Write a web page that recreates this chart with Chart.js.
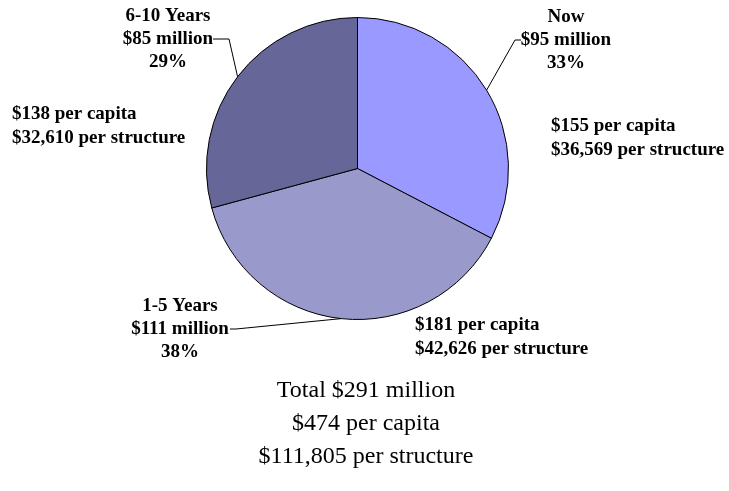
<!DOCTYPE html>
<html>
<head>
<meta charset="utf-8">
<script src="https://cdn.jsdelivr.net/npm/chart.js@4/dist/chart.umd.min.js"></script>
<style>
  html, body { margin: 0; padding: 0; background: #fff; }
  #wrap { width: 729px; height: 491px; }
</style>
</head>
<body>
<div id="wrap"><canvas id="cost-chart" width="729" height="491"></canvas></div>
<script>
const periods = ['Now', '1-5 Years', '6-10 Years'];
const costMillions = [95, 111, 85];
const percents = [33, 38, 29];
const perCapita = ['$155', '$181', '$138'];
const perStructure = ['$36,569', '$42,626', '$32,610'];
const totalLines = ['Total $291 million', '$474 per capita', '$111,805 per structure'];

const sliceColors = ['#9999ff', '#9999cc', '#666699'];

// where each label block sits (name block centred, per-capita block left aligned)
const labelLayout = [
  { nameX: 566, nameY: 17, hook: [521, 40, 515, 40], capX: 551, capY: 126 },
  { nameX: 180, nameY: 306, hook: [230, 329, 236, 329], capX: 415, capY: 325 },
  { nameX: 168, nameY: 16, hook: [213, 39, 229, 39], capX: 12, capY: 114 }
];

const labelPlugin = {
  id: 'sliceLabels',
  afterDraw(chart) {
    const ctx = chart.ctx;
    const arcs = chart.getDatasetMeta(0).data;
    ctx.save();
    ctx.fillStyle = '#000';
    ctx.textBaseline = 'middle';
    ctx.font = 'bold 19px "Liberation Serif", "Times New Roman", serif';

    arcs.forEach((arc, i) => {
      const L = labelLayout[i];
      ctx.textAlign = 'center';
      ctx.fillText(periods[i], L.nameX, L.nameY);
      ctx.fillText('$' + costMillions[i] + ' million', L.nameX, L.nameY + 23);
      ctx.fillText(percents[i] + '%', L.nameX, L.nameY + 46);

      ctx.textAlign = 'left';
      ctx.fillText(perCapita[i] + ' per capita', L.capX, L.capY);
      ctx.fillText(perStructure[i] + ' per structure', L.capX, L.capY + 24);

      // leader line from label to the middle of the slice edge
      const p = arc.getProps(['x', 'y', 'startAngle', 'endAngle', 'outerRadius'], true);
      const mid = (p.startAngle + p.endAngle) / 2;
      const ex = p.x + Math.cos(mid) * p.outerRadius;
      const ey = p.y + Math.sin(mid) * p.outerRadius;
      ctx.strokeStyle = '#000';
      ctx.lineWidth = 1;
      ctx.beginPath();
      ctx.moveTo(L.hook[0], L.hook[1]);
      ctx.lineTo(L.hook[2], L.hook[3]);
      ctx.lineTo(ex, ey);
      ctx.stroke();
    });

    ctx.textAlign = 'center';
    ctx.font = '24px "Liberation Serif", "Times New Roman", serif';
    totalLines.forEach((t, k) => {
      ctx.fillText(t, 366, 391 + k * 33);
    });
    ctx.restore();
  }
};

new Chart(document.getElementById('cost-chart').getContext('2d'), {
  type: 'pie',
  data: {
    labels: periods,
    datasets: [{
      data: costMillions,
      backgroundColor: sliceColors,
      borderColor: '#000',
      borderWidth: 1,
      hoverBorderWidth: 1,
      hoverOffset: 0
    }]
  },
  options: {
    responsive: false,
    animation: false,
    events: [],
    layout: { padding: { left: 206, right: 220, top: 17, bottom: 171 } },
    plugins: {
      legend: { display: false },
      tooltip: { enabled: false }
    }
  },
  plugins: [labelPlugin]
});
</script>
</body>
</html>
